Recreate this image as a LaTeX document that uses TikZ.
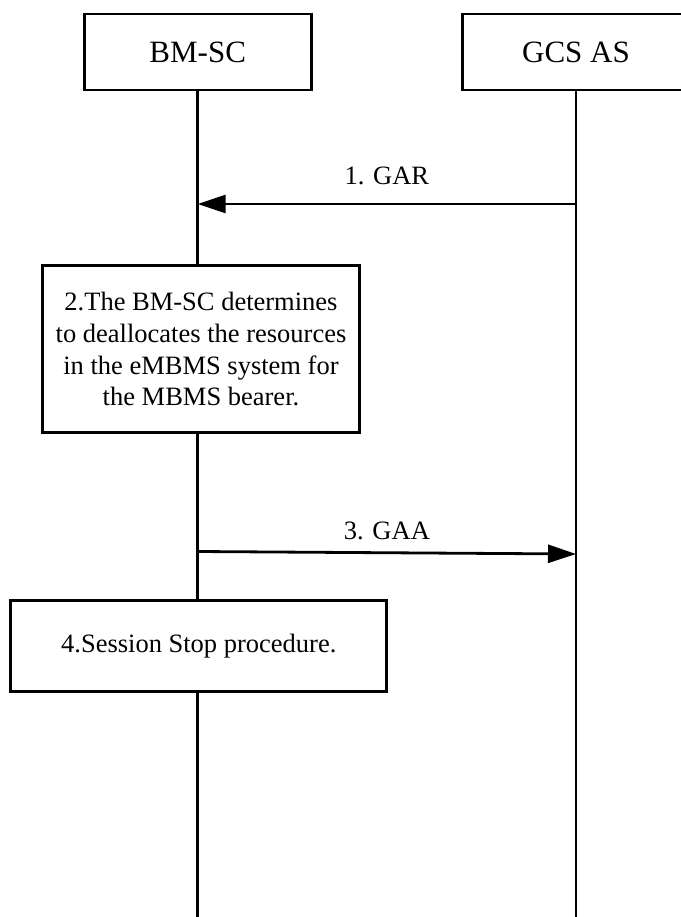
\documentclass[tikz,border=0pt]{standalone}
\usepackage{fontspec}
\setmainfont{Liberation Serif}
\usetikzlibrary{arrows.meta}
\begin{document}
\begin{tikzpicture}[x=1pt,y=-1pt,
  entity/.style={draw,line width=2.8pt,fill=white,inner sep=0pt,minimum width=227pt,minimum height=76pt,font=\fontsize{31}{36}\selectfont},
  stepbox/.style={draw,line width=2.8pt,fill=white,inner sep=0pt,align=center,font=\fontsize{26.5}{31.7}\selectfont},
  life/.style={line width=2.6pt},
  msg/.style={line width=2.8pt,-{Triangle[length=28pt,width=18pt]}},
  lbl/.style={inner sep=0pt,font=\fontsize{26.5}{31.7}\selectfont}]
\useasboundingbox (0,0) rectangle (680,917);
\node[entity] (bmsc) at (197.7,52) {BM-SC};
\node[entity] (gcs) at (576,52) {GCS AS};
\coordinate (bmscend) at (197.7,917);
\coordinate (gcsend) at (576,917);
\draw[life] (bmsc.south) -- (bmscend);
\draw[life] (gcs.south) -- (gcsend);
\coordinate (a1s) at (576,204);
\coordinate (a1e) at (197.7,204);
\draw[msg] (a1s) -- node[lbl,midway,above=18pt] {1. GAR} (a1e);
\node[stepbox,minimum width=317.5pt,minimum height=167pt] (step2) at (201,349.2) {2.The BM-SC determines\\to deallocates the resources\\in the eMBMS system for\\the MBMS bearer.};
\coordinate (a3s) at (197.7,551.5);
\coordinate (a3e) at (576,554);
\draw[msg] (a3s) -- node[lbl,midway,above=11pt] {3. GAA} (a3e);
\node[stepbox,minimum width=376pt,minimum height=91pt] (step4) at (198.8,646.2) {4.Session Stop procedure.};
\end{tikzpicture}
\end{document}
